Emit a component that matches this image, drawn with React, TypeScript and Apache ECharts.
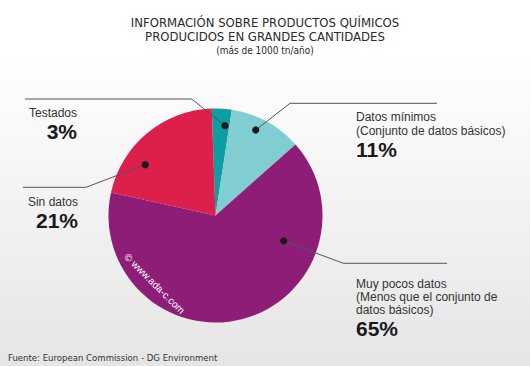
import React, { useEffect, useRef } from "react";
import * as echarts from "echarts";

const categories = [
  ["Testados"],
  ["Datos mínimos", "(Conjunto de datos básicos)"],
  ["Muy pocos datos", "(Menos que el conjunto de", "datos básicos)"],
  ["Sin datos"],
];
const values = [3, 11, 65, 21];
const colors = ["#0d9ea3", "#80cdd2", "#8d1d77", "#dc1f4b"];

const titleLines = ["INFORMACIÓN SOBRE PRODUCTOS QUÍMICOS", "PRODUCIDOS EN GRANDES CANTIDADES"];
const subTitle = "(más de 1000 tn/año)";
const sourceText = "Fuente: European Commission - DG Environment";
const watermark = "© www.ada-c.com";

// annotation layout (not data)
const labelLayouts = [
  { x: 77, y: 105.5, align: "right", rich: "n" },
  { x: 356, y: 109.5, align: "left", rich: "n" },
  { x: 356, y: 277, align: "left", rich: "m" },
  { x: 78, y: 194.5, align: "right", rich: "n" },
];
const leaderLines = [
  [[225, 125.7], [191.7, 99], [25, 99]],
  [[255.7, 130], [290, 103.3], [437, 103.3]],
  [[283.7, 241], [343.3, 263.3], [447, 263.3]],
  [[145.3, 164.7], [86, 187.3], [23, 187.3]],
];

const FONT = "'Liberation Sans', Arial, sans-serif";
const TITLE_FONT = "'DejaVu Sans Condensed', 'Liberation Sans Narrow', Roboto, sans-serif";

export default function App() {
  const ref = useRef<HTMLDivElement>(null);
  useEffect(() => {
    document.body.style.margin = "0";
    if (!ref.current) return;
    const chart = echarts.init(ref.current, null, { renderer: "svg" });
    const graphics: any[] = [];
    titleLines.forEach((t, i) => {
      graphics.push({
        type: "text",
        x: 265,
        y: 22 + i * 14.5,
        style: {
          text: t,
          fontSize: 13,
          lineHeight: 13,
          fontFamily: TITLE_FONT,
          fill: "#2a2a2a",
          align: "center",
          verticalAlign: "middle",
        },
      });
    });
    graphics.push({
      type: "text",
      x: 265,
      y: 50.5,
      style: {
        text: subTitle,
        fontSize: 10,
        lineHeight: 11,
        fontFamily: TITLE_FONT,
        fill: "#2a2a2a",
        align: "center",
        verticalAlign: "middle",
      },
    });
    leaderLines.forEach((pts) => {
      graphics.push({
        type: "polyline",
        shape: { points: pts },
        style: { stroke: "#555", lineWidth: 1, fill: null },
        z: 10,
      });
      graphics.push({
        type: "circle",
        shape: { cx: pts[0][0], cy: pts[0][1], r: 3.6 },
        style: { fill: "#1a1a1a" },
        z: 11,
      });
    });
    graphics.push({
      type: "text",
      x: 8,
      y: 357,
      style: {
        text: sourceText,
        fontSize: 9.5,
        fontFamily: TITLE_FONT,
        fill: "#333",
        verticalAlign: "middle",
      },
    });
    graphics.push({
      type: "text",
      x: 126,
      y: 255,
      rotation: -Math.PI / 4,
      style: {
        text: watermark,
        fontSize: 10,
        fontFamily: FONT,
        fill: "#ffffff",
        verticalAlign: "middle",
      },
      z: 12,
    });

    chart.setOption({
      animation: false,
      backgroundColor: {
        type: "linear",
        x: 0,
        y: 0,
        x2: 0,
        y2: 1,
        colorStops: [
          { offset: 0, color: "#ffffff" },
          { offset: 0.15, color: "#ffffff" },
          { offset: 1, color: "#e5e5e5" },
        ],
      },
      graphic: graphics,
      series: [
        {
          type: "pie",
          center: [215.5, 215.5],
          radius: 107,
          startAngle: 92,
          clockwise: true,
          silent: true,
          data: values.map((v, i) => ({
            value: v,
            name: categories[i].join(" "),
            itemStyle: { color: colors[i] },
          })),
          label: {
            show: true,
            formatter: (p: any) => {
              const key = labelLayouts[p.dataIndex].rich;
              return (
                categories[p.dataIndex].map((l) => `{${key}|${l}}`).join("\n") +
                `\n{p|${values[p.dataIndex]}%}`
              );
            },
            fontFamily: FONT,
            rich: {
              n: { fontFamily: FONT, fontSize: 12, lineHeight: 14, color: "#333" },
              m: { fontFamily: FONT, fontSize: 12, lineHeight: 13, color: "#333" },
              p: { fontFamily: FONT, fontSize: 21, fontWeight: "bold", lineHeight: 24, color: "#1a1a1a" },
            },
          },
          labelLine: { show: false },
          labelLayout: (params: any) => {
            const l = labelLayouts[params.dataIndex];
            return { x: l.x, y: l.y, align: l.align, verticalAlign: "top" };
          },
        },
      ],
    });
    return () => chart.dispose();
  }, []);
  return <div ref={ref} style={{ width: 530, height: 366 }} />;
}
